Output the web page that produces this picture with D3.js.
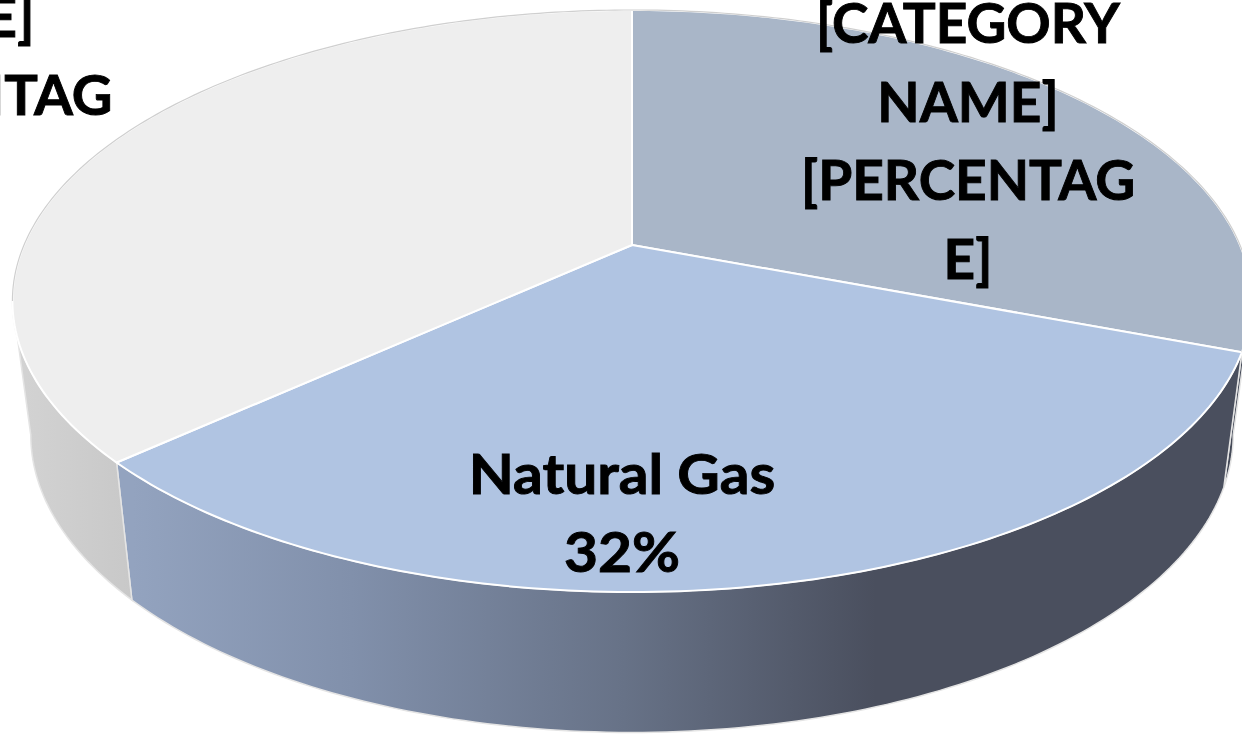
<!DOCTYPE html>
<html>
<head>
<meta charset="utf-8">
<script src="https://cdn.jsdelivr.net/npm/d3@7"></script>
<style>
body { margin: 0; background: #fff; overflow: hidden; }
text { font-family: Lato, "Open Sans", sans-serif; font-weight: 700; fill: #000; stroke: #000; stroke-width: 0.9; }
</style>
</head>
<body>
<svg id="chart" width="1242" height="734"></svg>
<script>
// Slices clockwise from 12 o'clock
var categories = ['[CATEGORY NAME]', 'Natural Gas', '[CATEGORY NAME]'];
var shares = [30.8, 32.4, 36.8];
var topColors = ['#a9b6c8', '#b0c4e2', '#eeeeee'];
var labelLines = [
	['[CATEGORY', 'NAME]', '[PERCENTAG', 'E]'],
	['Natural Gas', '32%'],
	['[CATEGORY', 'NAME]', '[PERCENTAG', 'E]']
];

var svg = d3.select('#chart');
var defs = svg.append('defs');

// Perspective: a unit circle goes through a homography, k is the tilt
var k = -0.19244;
var cx = 632;
var topRim = {c: 608, a: 233.1, b: 245};
var lowRim = {c: 590, a: 214, b: 377.5};

function project(rim, angle) {
	var u = Math.sin(angle), v = -Math.cos(angle), w = 1 + k * v;
	return [cx + rim.c * u / w, (rim.a * v + rim.b) / w];
}

// Sample the rim between two angles
function rimPoints(rim, a0, a1) {
	var n = Math.max(2, Math.ceil(Math.abs(a1 - a0) * 60));
	return d3.range(n + 1).map(function(i) {
		return project(rim, a0 + (a1 - a0) * i / n);
	});
}

var line = d3.line();
var arcs = d3.pie().sort(null).value(function(d) { return d; })(shares);

// Angles where the wall turns out of sight
var rightEdge = Math.PI - Math.acos(-k);
var leftEdge = Math.PI + Math.acos(-k);

var gasGrad = defs.append('linearGradient').attr('id', 'gas-wall').
	attr('gradientUnits', 'userSpaceOnUse').
	attr('x1', 133).attr('x2', 1225).attr('y1', 0).attr('y2', 0);
[[0, '#93a3bf'], [0.2, '#8190ab'], [0.45, '#677287'], [0.68, '#4a4f5e'], [1, '#4a4f5e']].
	forEach(function(s) { gasGrad.append('stop').attr('offset', s[0]).attr('stop-color', s[1]); });

var greyGrad = defs.append('linearGradient').attr('id', 'grey-wall').
	attr('gradientUnits', 'userSpaceOnUse').
	attr('x1', 15).attr('x2', 133).attr('y1', 0).attr('y2', 0);
greyGrad.append('stop').attr('offset', 0).attr('stop-color', '#d3d3d3');
greyGrad.append('stop').attr('offset', 1).attr('stop-color', '#c8c8c8');

// Walls first, they sit behind the top faces
var walls = [
	{a0: arcs[0].endAngle, a1: rightEdge, fill: '#454a58'},
	{a0: arcs[1].startAngle, a1: arcs[1].endAngle, fill: 'url(#gas-wall)'},
	{a0: arcs[2].startAngle, a1: leftEdge, fill: 'url(#grey-wall)'}
];
walls.forEach(function(wall) {
	var a0 = Math.min(wall.a0, wall.a1), a1 = Math.max(wall.a0, wall.a1);
	var pts = rimPoints(topRim, a0, a1).concat(rimPoints(lowRim, a1, a0));
	svg.append('path').attr('d', line(pts) + 'Z').
		attr('fill', wall.fill).attr('stroke', '#e4e4e4').attr('stroke-width', 1.5);
});

// Top faces
arcs.forEach(function(arc, i) {
	var pts = [[cx, topRim.b]].concat(rimPoints(topRim, arc.startAngle, arc.endAngle));
	svg.append('path').attr('class', 'slice').attr('d', line(pts) + 'Z').
		attr('fill', topColors[i]).attr('stroke', '#fff').attr('stroke-width', 2);
});

// Thin grey outline on the far rim
[arcs[2], arcs[0]].forEach(function(arc) {
	var a0 = arc === arcs[2] ? leftEdge : arc.startAngle;
	svg.append('path').attr('d', line(rimPoints(topRim, a0, arc.endAngle))).
		attr('fill', 'none').attr('stroke', '#cfcfcf').attr('stroke-width', 1.2);
});

// Labels, placed by hand, the left one runs off the page like in the original
var labelPos = [
	{x: 968, y: 43, sx: 1},
	{x: 622, y: 494, sx: 1.066},
	{x: -58, y: -42, sx: 1.02}
];
var lineStep = 78.5;
labelLines.forEach(function(lines, i) {
	var g = svg.append('text').attr('text-anchor', 'middle').attr('font-size', 55).
		attr('transform', 'translate(' + labelPos[i].x + ',0) scale(' + labelPos[i].sx + ',1)');
	lines.forEach(function(t, j) {
		g.append('tspan').attr('x', 0).attr('y', labelPos[i].y + j * lineStep).text(t);
	});
});
</script>
</body>
</html>
